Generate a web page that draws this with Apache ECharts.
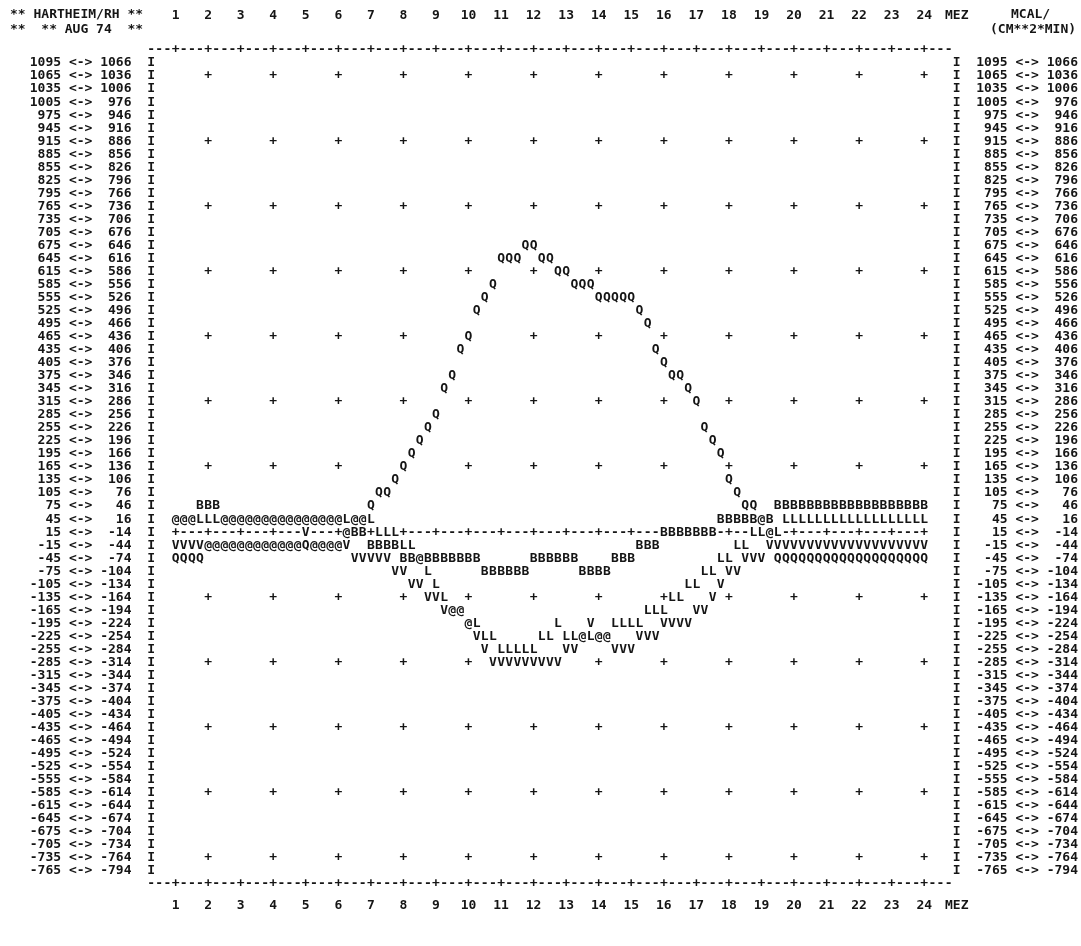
<!DOCTYPE html>
<html>
<head>
<meta charset="utf-8">
<script src="https://cdn.jsdelivr.net/npm/echarts@6/dist/echarts.min.js"></script>
<style>html,body{margin:0;padding:0;background:#fff}#chart{width:1081px;height:946px}</style>
</head>
<body>
<div id="chart"></div>
<script>
// ---- DATA (values in MCAL/(CM**2*MIN), each value = centre of its 30-unit print row) ----
// one column per quarter hour, from 1 to 24 MEZ
const TIMES = Array.from({length: 93}, (_, i) => 1 + i / 4);

const Q = [-60,-60,-60,-60,
  -30,-30,-30,-30,-30,-30,-30,-30,-30,-30,-30,-30,-30,-30,-30,-30,-30,
  0,30,30,60,90,90,120,150,180,210,240,270,
  330,360,420,450,510,540,570,
  630,630,630,660,660,630,630,600,600,570,570,570,540,540,540,540,540,
  510,480,420,390,360,360,330,300,240,210,180,120,90,60,60,30,0,
  -60,-60,-60,-60,-60,-60,-60,-60,-60,-60,-60,-60,-60,-60,-60,-60,-60,-60,-60];

const B = [30,30,30, 60,60,60,
  30,30,30,30,30,30,30,30,30,30,30,30,30,30,30,
  0,0,0, -30,-30,-30,-30,
  -60,-60,-60,-60,-60,-60,-60,-60,-60,-60,
  -90,-90,-90,-90,-90,-90,
  -60,-60,-60,-60,-60,-60,
  -90,-90,-90,-90,
  -60,-60,-60, -30,-30,-30,
  0,0,0,0,0,0,0,
  30,30,30,30,30,30,30,
  60,60,60,60,60,60,60,60,60,60,60,60,60,60,60,60,60,60,60];

const L = [30,30,30,30,30,30,30,30,30,30,30,30,30,30,30,30,30,30,30,30,30,30,30,30,30,
  0,0,0, -30,-30, -60, -90, -120, -150, -180,-180, -210,-210, -240,-240,
  -270,-270,-270,-270,-270, -240,-240, -210,
  -240,-240,-240,-240,-240,-240, -210, -210,-210,-210,
  -180,-180,-180, -150,-150, -120,-120, -90,-90, -60,-60, -30,-30,
  0,0,0,0,
  30,30,30,30,30,30,30,30,30,30,30,30,30,30,30,30,30,30];

const V = [-30,-30,-30,-30,-30,-30,-30,-30,-30,-30,-30,-30,-30,-30,-30,-30,
  0, -30,-30,-30,-30,-30,
  -60,-60,-60,-60,-60, -90,-90, -120,-120, -150,-150, -180, -180,-180,
  -210, -240, -270,
  -300,-300,-300,-300,-300,-300,-300,-300,-300,
  -270,-270, -240, -210, -240,-240, -270,-270,-270, -240,-240, -240,
  -210,-210,-210,-210, -180,-180, -150, -120, -90,-90, -60,-60,-60,
  -30,-30,-30,-30,-30,-30,-30,-30,-30,-30,-30,-30,-30,-30,-30,-30,-30,-30,-30,-30];

const SERIES_NAMES = ['Q', 'B', 'L', 'V'];
const HOUR_TICKS = [1,2,3,4,5,6,7,8,9,10,11,12,13,14,15,16,17,18,19,20,21,22,23,24];
const GRID_HOURS = [2,4,6,8,10,12,14,16,18,20,22,24];
const GRID_ROWS = [1050,900,750,600,450,300,150,-150,-300,-450,-600,-750];

// ---- rendering ----
const INK = '#151515';
const FONT = "bold 13px 'DejaVu Sans Mono', monospace";
const SERIES_VALUES = [Q, B, L, V];

const pad = (n, w) => String(n).padStart(w, ' ');
const rowKey = (h, v) => Math.round((h - 1) * 4) + '|' + v;

// which series fall in each print cell (coincident marks print as '@')
const occ = new Map();
SERIES_VALUES.forEach((vals, si) => vals.forEach((v, i) => {
  const k = rowKey(TIMES[i], v);
  if (!occ.has(k)) occ.set(k, []);
  occ.get(k).push(si);
}));

// printer frame: grid '+' marks, border rows and the zero row
const deco = [];
GRID_HOURS.forEach(h => GRID_ROWS.forEach(v => deco.push([h, v, '+'])));
for (let q = 1; q <= 99; q++) {
  const ch = q % 4 === 0 ? '+' : '-';
  deco.push([q / 4, 1110, ch]);
  deco.push([q / 4, -810, ch]);
}
for (let q = 4; q <= 96; q++) deco.push([q / 4, 0, q % 4 === 0 ? '+' : '-']);

function textEl(p, ch) {
  return {type: 'text', x: p[0], y: p[1], silent: true,
    style: {text: ch, fill: INK, font: FONT, align: 'center', verticalAlign: 'middle'}};
}

const dataSeries = SERIES_NAMES.map((name, si) => ({
  type: 'custom', name, xAxisIndex: 0, yAxisIndex: 0, clip: false,
  encode: {x: 0, y: 1},
  data: TIMES.map((t, i) => [t, SERIES_VALUES[si][i]]),
  renderItem(params, api) {
    const h = api.value(0), v = api.value(1);
    const list = occ.get(rowKey(h, v)) || [si];
    if (list.length > 1 && list[0] !== si) return null;
    const ch = list.length > 1 ? '@' : name;
    return textEl(api.coord([h, v]), ch);
  }
}));

const decoSeries = {
  type: 'custom', name: 'frame', xAxisIndex: 0, yAxisIndex: 0, clip: false, z: 1,
  encode: {x: 0, y: 1},
  data: deco.map(d => [d[0], d[1]]),
  renderItem(params, api) {
    const h = api.value(0), v = api.value(1);
    if (occ.has(rowKey(h, v))) return null;
    return textEl(api.coord([h, v]), deco[params.dataIndex][2]);
  }
};

const hourFmt = v => (HOUR_TICKS.indexOf(v) >= 0 ? String(v) : (v === 25 ? 'MEZ' : ''));
const labelStyle = {color: INK, fontFamily: "'DejaVu Sans Mono', monospace", fontWeight: 'bold', fontSize: 13};

const xBase = {type: 'value', min: 0, max: 25, interval: 1,
  axisLine: {show: false}, axisTick: {show: false}, splitLine: {show: false}};
const yBase = {type: 'value', min: -810, max: 1110, interval: 30,
  axisLine: {show: false}, axisTick: {show: false}, splitLine: {show: false}};

const option = {
  animation: false,
  backgroundColor: '#ffffff',
  grid: {left: 143, right: 122, top: 50, bottom: 62, containLabel: false},
  xAxis: [
    Object.assign({}, xBase, {position: 'top',
      axisLabel: Object.assign({formatter: hourFmt, margin: 28, showMinLabel: true, showMaxLabel: true}, labelStyle)}),
    Object.assign({}, xBase, {position: 'bottom',
      axisLabel: Object.assign({formatter: hourFmt, margin: 15, showMinLabel: true, showMaxLabel: true}, labelStyle)})
  ],
  yAxis: [
    Object.assign({}, yBase, {position: 'left',
      axisLabel: Object.assign({margin: -12, showMinLabel: false, showMaxLabel: false,
        formatter: v => (v <= -810 || v >= 1110) ? '' : pad(v + 15, 4) + ' <-> ' + pad(v - 14, 4) + '  I'}, labelStyle)}),
    Object.assign({}, yBase, {position: 'right',
      axisLabel: Object.assign({margin: -4, showMinLabel: false, showMaxLabel: false,
        formatter: v => (v <= -810 || v >= 1110) ? '' : 'I  ' + pad(v + 15, 4) + ' <-> ' + pad(v - 14, 4)}, labelStyle)})
  ],
  graphic: [
    {type: 'text', left: 10, top: 8, style: {text: '** HARTHEIM/RH **', fill: INK, font: FONT}},
    {type: 'text', left: 10, top: 23, style: {text: '**  ** AUG 74  **', fill: INK, font: FONT}},
    {type: 'text', left: 1011, top: 8, style: {text: 'MCAL/', fill: INK, font: FONT}},
    {type: 'text', left: 990, top: 23, style: {text: '(CM**2*MIN)', fill: INK, font: FONT}}
  ],
  series: [decoSeries].concat(dataSeries)
};

const chart = echarts.init(document.getElementById('chart'), null, {renderer: 'canvas'});
chart.setOption(option);
</script>
</body>
</html>
